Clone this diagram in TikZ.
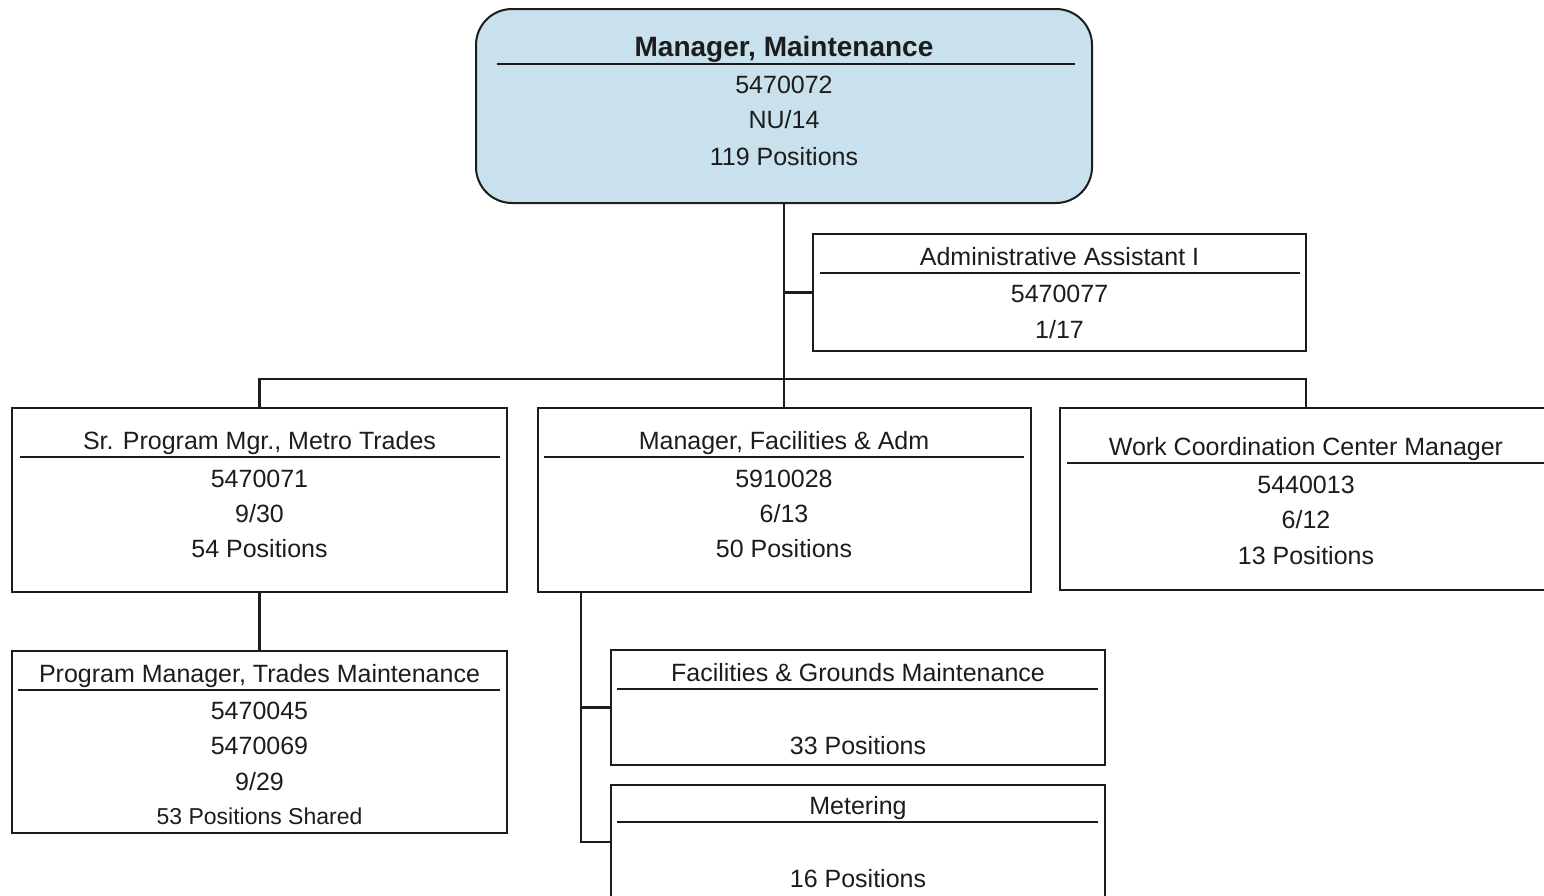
\documentclass[tikz,border=0pt]{standalone}
\usepackage{fontspec}
\setmainfont{Liberation Sans}
\usetikzlibrary{positioning}
\definecolor{chartBlue}{RGB}{200,225,237}
\definecolor{chartInk}{RGB}{28,28,28}

\begin{document}
\begin{tikzpicture}[x=1pt,y=-1pt,
    box/.style={draw=chartInk, line width=2pt, inner sep=0pt},
    link/.style={draw=chartInk, line width=2.2pt},
    bar/.style={draw=chartInk, line width=2.2pt},
    txt/.style={text=chartInk, anchor=base, inner sep=0pt, font=\fontsize{25}{30}\selectfont},
    small/.style={txt, font=\fontsize{23}{28}\selectfont},
    head/.style={txt, font=\bfseries\fontsize{28}{34}\selectfont}]

    \useasboundingbox (0,0) rectangle (1544,895);

    % manager at the top
    \node[box, fill=chartBlue, rounded corners=36pt, minimum width=616pt, minimum height=194pt] (mgr) at (784,106) {};
    \draw[bar] (497,64) -- (1075,64);
    \node[head] (mgrT) at (784,56) {Manager, Maintenance};
    \node[txt] (mgrA) at (784,93) {5470072};
    \node[txt] (mgrB) at (784,128) {NU/14};
    \node[txt] (mgrC) at (784,165) {119 Positions};

    % assistant
    \node[box, minimum width=493pt, minimum height=117pt] (admin) at (1059.5,292.5) {};
    \draw[bar] (820,273) -- (1300,273);
    \node[txt] (adminT) at (1059.5,265) {Administrative Assistant I};
    \node[txt] (adminA) at (1059.5,302) {5470077};
    \node[txt] (adminB) at (1059.5,338) {1/17};

    % second row
    \node[box, minimum width=495pt, minimum height=184pt] (srpm) at (259.5,500) {};
    \draw[bar] (20,457) -- (500,457);
    \node[txt] (srpmT) at (259.5,449) {Sr. Program Mgr., Metro Trades};
    \node[txt] (srpmA) at (259.5,487) {5470071};
    \node[txt] (srpmB) at (259.5,522) {9/30};
    \node[txt] (srpmC) at (259.5,557) {54 Positions};

    \node[box, minimum width=493pt, minimum height=184pt] (facmgr) at (784,500) {};
    \draw[bar] (544,457) -- (1024,457);
    \node[txt] (facmgrT) at (784,449) {Manager, Facilities \& Adm};
    \node[txt] (facmgrA) at (784,487) {5910028};
    \node[txt] (facmgrB) at (784,522) {6/13};
    \node[txt] (facmgrC) at (784,557) {50 Positions};

    \node[box, minimum width=492pt, minimum height=182pt] (wcc) at (1306,499) {};
    \draw[bar] (1067,463) -- (1552,463);
    \node[txt] (wccT) at (1306,455) {Work Coordination Center Manager};
    \node[txt] (wccA) at (1306,493) {5440013};
    \node[txt] (wccB) at (1306,528) {6/12};
    \node[txt] (wccC) at (1306,564) {13 Positions};

    % third row
    \node[box, minimum width=495pt, minimum height=182pt] (pm) at (259.5,742) {};
    \draw[bar] (18,690) -- (500,690);
    \node[txt] (pmT) at (259.5,682) {Program Manager, Trades Maintenance};
    \node[txt] (pmA) at (259.5,719) {5470045};
    \node[txt] (pmB) at (259.5,754) {5470069};
    \node[txt] (pmC) at (259.5,790) {9/29};
    \node[small] (pmD) at (259.5,824) {53 Positions Shared};

    \node[box, minimum width=494pt, minimum height=115pt] (fac) at (858,707.5) {};
    \draw[bar] (617,689) -- (1098,689);
    \node[txt] (facT) at (858,681) {Facilities \& Grounds Maintenance};
    \node[txt] (facA) at (858,754) {33 Positions};

    % metering runs past the lower edge
    \node[box, minimum width=494pt, minimum height=114pt] (meter) at (858,842) {};
    \draw[bar] (617,822) -- (1098,822);
    \node[txt] (meterT) at (858,814) {Metering};
    \node[txt] (meterA) at (858,887) {16 Positions};

    % reporting lines
    \draw[link] (mgr.south) -- (facmgr.north);
    \draw[link] (admin.west) -- (admin.west -| mgr.south);
    \draw[link] (srpm.north) -- ++(0,-28) -| (wcc.north);
    \draw[link] (srpm.south) -- (pm.north);
    \coordinate (branch) at (581,592);
    \draw[link] (branch) |- (meter.west);
    \draw[link] (branch |- fac.west) -- (fac.west);

\end{tikzpicture}
\end{document}
